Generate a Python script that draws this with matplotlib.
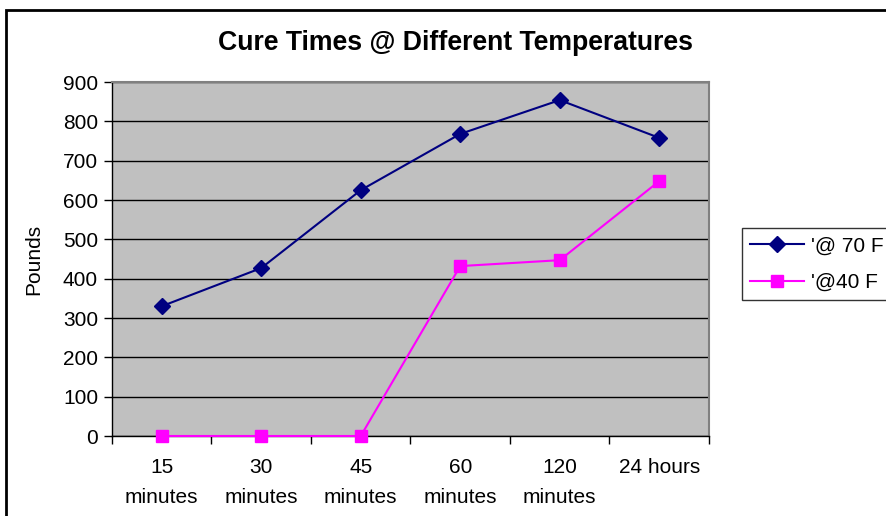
import matplotlib.pyplot as plt
from matplotlib.patches import Rectangle

categories = ["15\nminutes", "30\nminutes", "45\nminutes", "60\nminutes", "120\nminutes", "24 hours"]
temp_70 = [330, 427, 625, 768, 854, 758]
temp_40 = [0, 0, 0, 432, 447, 648]
series_names = ["'@ 70 F", "'@40 F"]

plt.rcParams['font.family'] = ['Liberation Sans', 'DejaVu Sans']

fig = plt.figure(figsize=(8.87, 5.16), dpi=100)
ax = fig.add_axes([112 / 887, 1 - 436 / 516, (709 - 112) / 887, (436 - 82) / 516])
ax.set_facecolor('#C0C0C0')

x = list(range(len(categories)))
ax.plot(x, temp_70, color='#000080', lw=1.5, marker='D', markersize=8,
        label=series_names[0], zorder=3, clip_on=False)
ax.plot(x, temp_40, color='#FF00FF', lw=1.5, marker='s', markersize=8,
        label=series_names[1], zorder=3, clip_on=False)

ax.set_xlim(-0.5, len(categories) - 0.5)
ax.set_ylim(0, 900)
ax.set_yticks(range(0, 901, 100))
ax.yaxis.grid(True, color='black', lw=1)
ax.set_axisbelow(True)

# category boundaries as ticks, labels centred on categories
ax.set_xticks([i - 0.5 for i in range(len(categories) + 1)])
ax.set_xticklabels([])
ax.set_xticks(x, minor=True)
ax.set_xticklabels(categories, minor=True, fontsize=15, linespacing=1.75)
ax.tick_params(axis='x', which='minor', length=0, pad=16)
ax.tick_params(axis='x', which='major', length=6, width=1, direction='out')
ax.tick_params(axis='y', length=6, width=1, direction='out', labelsize=15, pad=4)

ax.set_ylabel("Pounds", fontsize=15, labelpad=14)

for side in ['top', 'right']:
    ax.spines[side].set_color('#808080')
    ax.spines[side].set_linewidth(1.5)
for side in ['left', 'bottom']:
    ax.spines[side].set_color('black')
    ax.spines[side].set_linewidth(1)

fig.text(456 / 887, 1 - 43 / 516, "Cure Times @ Different Temperatures",
         ha='center', va='center', fontsize=19.2, fontweight='bold')

leg = fig.legend(loc='upper left', bbox_to_anchor=(742 / 887, 1 - 228 / 516),
                 fontsize=15, frameon=True, fancybox=False, edgecolor='black',
                 borderaxespad=0, handlelength=2.6, handletextpad=0.3,
                 borderpad=0.4, labelspacing=0.85)
leg.get_frame().set_linewidth(1)

fig.patches.append(Rectangle((6 / 887, -0.05), 1.0, 1 - 10 / 516 + 0.05,
                             transform=fig.transFigure, fill=False,
                             edgecolor='black', lw=2))

fig.savefig("out.png", dpi=100)
